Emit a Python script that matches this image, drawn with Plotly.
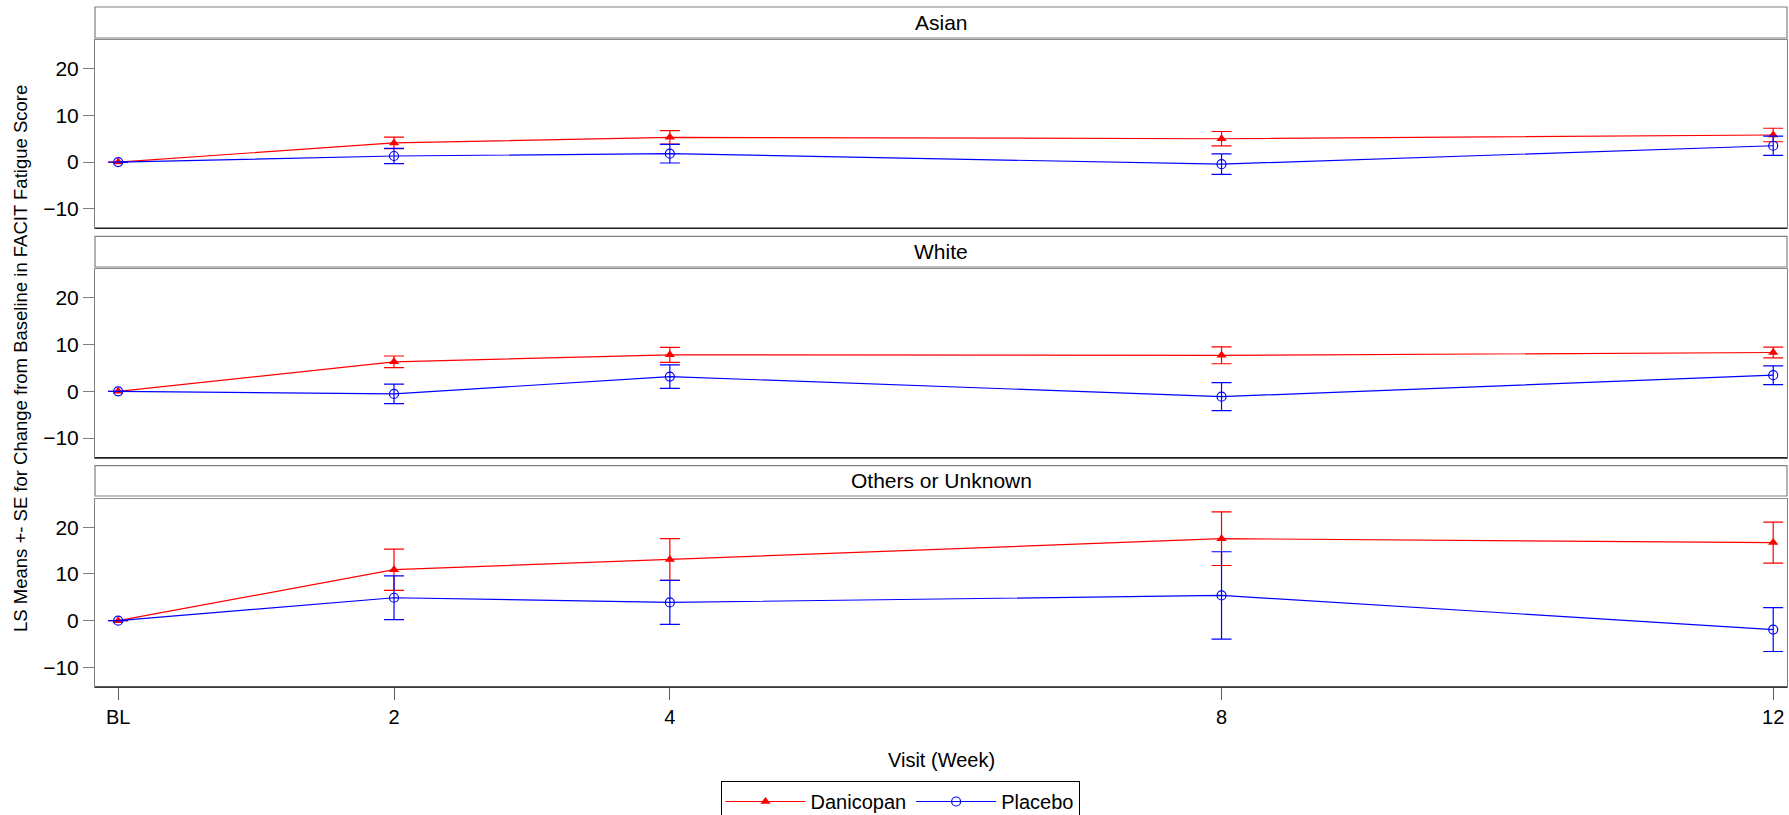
import plotly.graph_objects as go

# ---------------- data ----------------
visits = [0, 2, 4, 8, 12]
visit_labels = ["BL", "2", "4", "8", "12"]
panels = ["Asian", "White", "Others or Unknown"]

dan_asian = [0, 4.1, 5.3, 5.0, 5.8]
dan_asian_se = [0, 1.25, 1.45, 1.55, 1.45]
pla_asian = [0, 1.3, 1.8, -0.45, 3.5]
pla_asian_se = [0, 1.65, 2.0, 2.2, 2.05]

dan_white = [0, 6.3, 7.8, 7.7, 8.3]
dan_white_se = [0, 1.25, 1.6, 1.8, 1.15]
pla_white = [0, -0.55, 3.15, -1.15, 3.45]
pla_white_se = [0, 2.1, 2.5, 3.0, 2.0]

dan_other = [0, 10.9, 13.1, 17.55, 16.7]
dan_other_se = [0, 4.4, 4.45, 5.75, 4.4]
pla_other = [0, 4.9, 3.9, 5.4, -1.9]
pla_other_se = [0, 4.7, 4.7, 9.35, 4.7]

dan_means = [dan_asian, dan_white, dan_other]
dan_ses = [dan_asian_se, dan_white_se, dan_other_se]
pla_means = [pla_asian, pla_white, pla_other]
pla_ses = [pla_asian_se, pla_white_se, pla_other_se]

y_ticks = [-10, 0, 10, 20]

# ---------------- layout geometry ----------------
W, H = 1789, 815
ML, MR, MT, MB = 95, 2, 7, 128
PH = H - MT - MB  # plot area height in px
PW = W - ML - MR


def py(ypx):
    return (H - MB - ypx) / PH


def px(xpx):
    return (xpx - ML) / PW


plot_px = [(40.3, 228.3), (269.3, 457.7), (498.7, 687.0)]
head_px = [(7.0, 38.0), (236.3, 267.0), (465.7, 496.0)]

FONT = "Liberation Sans, Arial, sans-serif"
RED = "#FF0000"
BLUE = "#0000FF"

fig = go.Figure()

for i in range(3):
    xa = "x" if i == 0 else f"x{i+1}"
    ya = "y" if i == 0 else f"y{i+1}"
    fig.add_trace(go.Scatter(
        x=visits, y=dan_means[i], xaxis=xa, yaxis=ya,
        mode="lines+markers", name="Danicopan", legendgroup="dan",
        showlegend=(i == 0),
        line=dict(color=RED, width=1.2),
        marker=dict(symbol="triangle-up", size=9, color=RED),
        error_y=dict(type="data", array=dan_ses[i], visible=True,
                     color=RED, thickness=1.2, width=10),
    ))
    fig.add_trace(go.Scatter(
        x=visits, y=pla_means[i], xaxis=xa, yaxis=ya,
        mode="lines+markers", name="Placebo", legendgroup="pla",
        showlegend=(i == 0),
        line=dict(color=BLUE, width=1.2),
        marker=dict(symbol="circle-open", size=9, color=BLUE,
                    line=dict(width=1.2, color=BLUE)),
        error_y=dict(type="data", array=pla_ses[i], visible=True,
                     color=BLUE, thickness=1.2, width=10),
    ))

layout = dict(
    width=W, height=H, autosize=False,
    margin=dict(l=ML, r=MR, t=MT, b=MB, autoexpand=False),
    paper_bgcolor="white", plot_bgcolor="white",
    font=dict(family=FONT, size=20, color="black"),
    showlegend=True,
    legend=dict(
        orientation="h", x=px(900), xanchor="center", y=py(781), yanchor="top",
        bordercolor="black", borderwidth=1, bgcolor="white",
        font=dict(size=20, family=FONT), itemwidth=80,
        tracegroupgap=0,
    ),
)

for i in range(3):
    xk = "xaxis" if i == 0 else f"xaxis{i+1}"
    yk = "yaxis" if i == 0 else f"yaxis{i+1}"
    y0, y1 = plot_px[i]
    bottom = (i == 2)
    layout[xk] = dict(
        domain=[0, 1], anchor="y" if i == 0 else f"y{i+1}",
        range=[-0.168, 12.10], showgrid=False, zeroline=False,
        showline=True, mirror=True, linecolor="#8a8a8a", linewidth=1,
        tickmode="array", tickvals=visits, ticktext=visit_labels,
        ticks="outside" if bottom else "", ticklen=12, tickcolor="#606060",
        showticklabels=bottom, tickfont=dict(size=20, family=FONT),
        automargin=False,
    )
    if i > 0:
        layout[xk]["matches"] = "x"
    layout[yk] = dict(
        domain=[py(y1), py(y0)], anchor="x" if i == 0 else f"x{i+1}",
        range=[-14.2, 26.1], showgrid=False, zeroline=False,
        showline=True, mirror=True, linecolor="#808080", linewidth=1,
        tickmode="array", tickvals=y_ticks,
        ticks="outside", ticklen=11, tickcolor="#808080",
        tickfont=dict(size=21, family=FONT),
        automargin=False,
    )

shapes = []
annotations = []
for i in range(3):
    h0, h1 = head_px[i]
    y0, y1 = plot_px[i]
    shapes.append(dict(
        type="rect", xref="paper", yref="paper",
        x0=0, x1=1, y0=py(h1), y1=py(h0),
        line=dict(color="#808080", width=1.2), fillcolor="white", layer="below",
    ))
    # darker bottom frame line of each panel
    shapes.append(dict(
        type="line", xref="paper", yref="paper",
        x0=0, x1=1, y0=py(y1), y1=py(y1),
        line=dict(color="#202020", width=1.6), layer="above",
    ))
    annotations.append(dict(
        text=panels[i], xref="paper", yref="paper",
        x=0.5, y=py((h0 + h1) / 2), xanchor="center", yanchor="middle",
        showarrow=False, font=dict(size=21, family=FONT),
    ))

annotations.append(dict(
    text="Visit (Week)", xref="paper", yref="paper",
    x=0.5, y=py(760), xanchor="center", yanchor="middle",
    showarrow=False, font=dict(size=20, family=FONT),
))
annotations.append(dict(
    text="LS Means +- SE for Change from Baseline in FACIT Fatigue Score",
    xref="paper", yref="paper", textangle=-90,
    x=px(21), y=py(359), xanchor="center", yanchor="middle",
    showarrow=False, font=dict(size=18.5, family=FONT),
))

layout["shapes"] = shapes
layout["annotations"] = annotations
fig.update_layout(**layout)

fig.write_html(
    "out.html",
    config={"displayModeBar": False},
    post_script="document.body.style.margin='0';document.body.style.overflow='hidden';",
)
